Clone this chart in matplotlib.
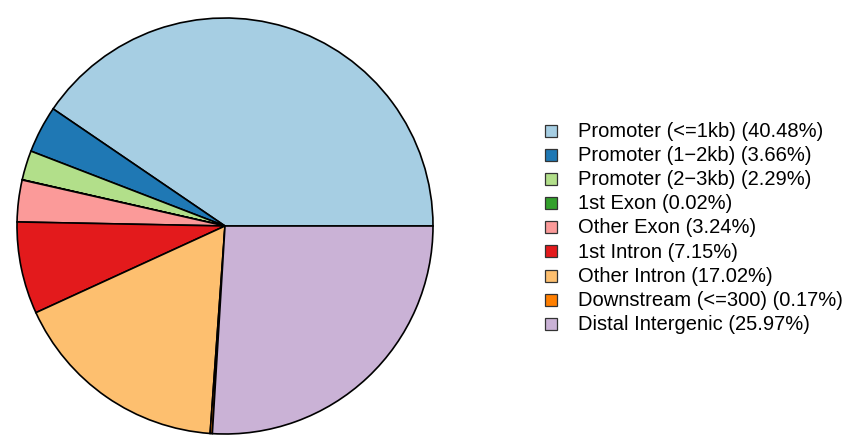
import matplotlib
matplotlib.use("Agg")
import matplotlib.pyplot as plt
from matplotlib.patches import Rectangle

categories = ["Promoter (<=1kb)", "Promoter (1\u22122kb)", "Promoter (2\u22123kb)", "1st Exon",
              "Other Exon", "1st Intron", "Other Intron", "Downstream (<=300)", "Distal Intergenic"]
values = [40.48, 3.66, 2.29, 0.02, 3.24, 7.15, 17.02, 0.17, 25.97]
colors = ["#A6CEE3", "#1F78B4", "#B2DF8A", "#33A02C", "#FB9A99", "#E31A1C", "#FDBF6F", "#FF7F00", "#CAB2D6"]

plt.rcParams['font.family'] = ['Liberation Sans', 'DejaVu Sans']
W, H = 858, 448
fig = plt.figure(figsize=(W/100, H/100), dpi=100)
ax = fig.add_axes([17/W, (H-434)/H, 416/W, 416/H])
ax.pie(values, colors=colors, startangle=0, counterclock=True,
       wedgeprops=dict(edgecolor="black", linewidth=1.2))
ax.set_xlim(-1.0, 1.0)
ax.set_ylim(-1.0, 1.0)
ax.set_aspect('equal')

lax = fig.add_axes([0, 0, 1, 1], facecolor='none')
lax.set_xlim(0, W)
lax.set_ylim(H, 0)
lax.axis('off')
y0, dy = 131, 24.1
for i, (c, v, col) in enumerate(zip(categories, values, colors)):
    y = y0 + i * dy
    lax.add_patch(Rectangle((545, y - 6), 12, 12, facecolor=col, edgecolor="#333333", linewidth=0.9))
    lax.text(578, y + 0.5, f"{c} ({v:.2f}%)", fontsize=14.5, va='center', ha='left', color='black')

fig.savefig("out.png", dpi=100)
